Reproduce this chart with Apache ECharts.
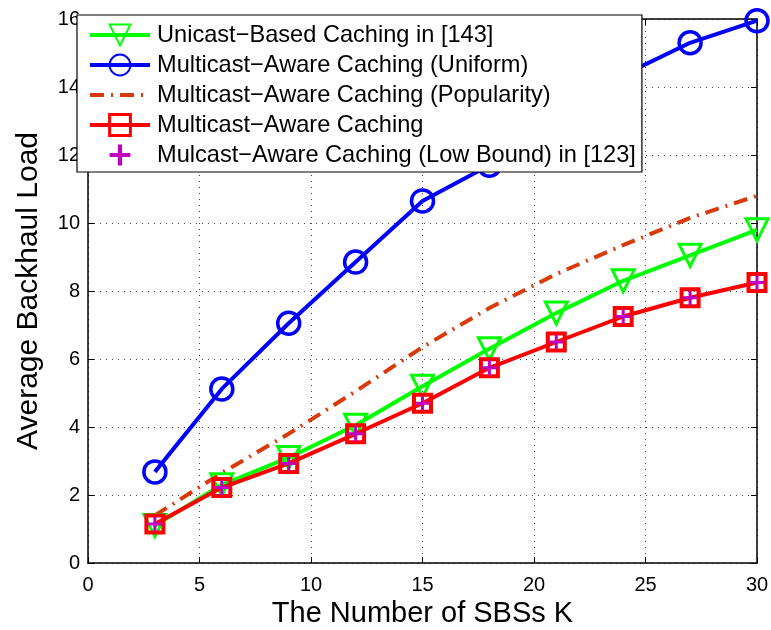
<!DOCTYPE html>
<html><head><meta charset="utf-8">
<script src="https://cdn.jsdelivr.net/npm/echarts@6/dist/echarts.min.js"></script>
<style>html,body{margin:0;padding:0;background:#fff}#c{width:771px;height:630px}</style>
</head><body><div id="c"></div>
<script>
const K = [3, 6, 9, 12, 15, 18, 21, 24, 27, 30];
const unicast = [1.1, 2.3, 3.1, 4.05, 5.2, 6.3, 7.35, 8.3, 9.05, 9.8];
const uniform = [2.68, 5.12, 7.05, 8.85, 10.65, 11.7, 13.0, 14.35, 15.3, 15.95];
const popularity = [1.4, 2.65, 3.8, 5.05, 6.35, 7.5, 8.5, 9.35, 10.15, 10.8];
const multicast = [1.15, 2.22, 2.93, 3.8, 4.7, 5.74, 6.5, 7.25, 7.8, 8.25];
const lowBound = [1.15, 2.22, 2.93, 3.8, 4.7, 5.74, 6.5, 7.25, 7.8, 8.25];
const xTicks = [0, 5, 10, 15, 20, 25, 30];
const yTicks = [0, 2, 4, 6, 8, 10, 12, 14, 16];
const names = [
  'Unicast\u2212Based Caching in [143]',
  'Multicast\u2212Aware Caching (Uniform)',
  'Multicast\u2212Aware Caching (Popularity)',
  'Multicast\u2212Aware Caching',
  'Mulcast\u2212Aware Caching (Low Bound) in [123]'
];
const pair = arr => K.map((k, i) => [k, arr[i]]);
const F = '"Liberation Sans", Arial, Helvetica, sans-serif';
const chart = echarts.init(document.getElementById('c'));
const plus = 'path://M4,0h2v4h4v2h-4v4h-2v-4h-4v-2h4z';
const gridLine = {show: true, lineStyle: {color: '#444', type: [1, 5], width: 1}};
const hollow = 'rgba(255,255,255,0)';
chart.setOption({
  animation: false,
  backgroundColor: '#fff',
  grid: {left: 88, right: 14, top: 19, bottom: 67, containLabel: false, outerBoundsMode: 'none'},
  xAxis: [{
    type: 'value', min: 0, max: 30, interval: 5,
    name: 'The Number of SBSs K', nameLocation: 'middle', nameGap: 36,
    nameTextStyle: {fontFamily: F, fontSize: 29, color: '#000'},
    axisLine: {show: true, onZero: false, lineStyle: {color: '#000', width: 1.5}},
    axisTick: {show: true, inside: true, length: 6, lineStyle: {color: '#000'}},
    axisLabel: {fontFamily: F, fontSize: 20, color: '#000', margin: 12,
      formatter: v => xTicks.includes(v) ? String(v) : ''},
    splitLine: gridLine
  }, {
    type: 'value', min: 0, max: 30, interval: 5, position: 'top',
    axisLine: {show: true, onZero: false, lineStyle: {color: '#000', width: 1.5}},
    axisTick: {show: true, inside: true, length: 6, lineStyle: {color: '#000'}},
    axisLabel: {show: false}, splitLine: {show: false}
  }],
  yAxis: [{
    type: 'value', min: 0, max: 16, interval: 2,
    name: 'Average Backhaul Load', nameLocation: 'middle', nameGap: 44,
    nameTextStyle: {fontFamily: F, fontSize: 30, color: '#000'},
    axisLine: {show: true, onZero: false, lineStyle: {color: '#000', width: 1.5}},
    axisTick: {show: true, inside: true, length: 6, lineStyle: {color: '#000'}},
    axisLabel: {fontFamily: F, fontSize: 20, color: '#000', margin: 8,
      formatter: v => yTicks.includes(v) ? String(v) : ''},
    splitLine: gridLine
  }, {
    type: 'value', min: 0, max: 16, interval: 2, position: 'right',
    axisLine: {show: true, onZero: false, lineStyle: {color: '#000', width: 1.5}},
    axisTick: {show: true, inside: true, length: 6, lineStyle: {color: '#000'}},
    axisLabel: {show: false}, splitLine: {show: false}
  }],
  legend: {
    orient: 'vertical', left: 77, top: 15, z: 50,
    backgroundColor: '#fff', borderColor: '#000', borderWidth: 1.2,
    padding: [8, 6, 5, 11], itemGap: 6, itemWidth: 60, itemHeight: 26,
    textStyle: {fontFamily: F, fontSize: 23.6, color: '#000', padding: [0, 0, 0, 2]},
    data: [
      {name: names[0], lineStyle: {width: 4}},
      {name: names[1], lineStyle: {width: 4}},
      {name: names[2], lineStyle: {width: 4}, itemStyle: {color: 'rgba(0,0,0,0)', borderWidth: 0, opacity: 0}},
      {name: names[3], lineStyle: {width: 4}, itemStyle: {borderWidth: 3}},
      {name: names[4], lineStyle: {opacity: 0, width: 0}}
    ]
  },
  series: [
    {name: names[0], type: 'line', data: pair(unicast), symbol: 'triangle', symbolRotate: 180, symbolSize: 22,
      lineStyle: {color: '#00ff00', width: 4}, itemStyle: {color: hollow, borderColor: '#00ff00', borderWidth: 3}, z: 3},
    {name: names[1], type: 'line', data: pair(uniform), symbol: 'circle', symbolSize: 22,
      lineStyle: {color: '#0000ff', width: 4}, itemStyle: {color: hollow, borderColor: '#0000ff', borderWidth: 3.5}, z: 3},
    {name: names[2], type: 'line', data: pair(popularity), symbol: 'none',
      lineStyle: {color: '#d93a0b', width: 4, type: [14, 7, 2, 7]}, itemStyle: {color: '#d93a0b'}, z: 2},
    {name: names[3], type: 'line', data: pair(multicast), symbol: 'rect', symbolSize: 17,
      lineStyle: {color: '#ff0000', width: 4}, itemStyle: {color: hollow, borderColor: '#ff0000', borderWidth: 4}, z: 4},
    {name: names[4], type: 'line', data: pair(lowBound), symbol: plus, symbolSize: 15,
      lineStyle: {width: 0, opacity: 0}, itemStyle: {color: '#bf00bf'}, z: 5}
  ]
});
</script></body></html>
